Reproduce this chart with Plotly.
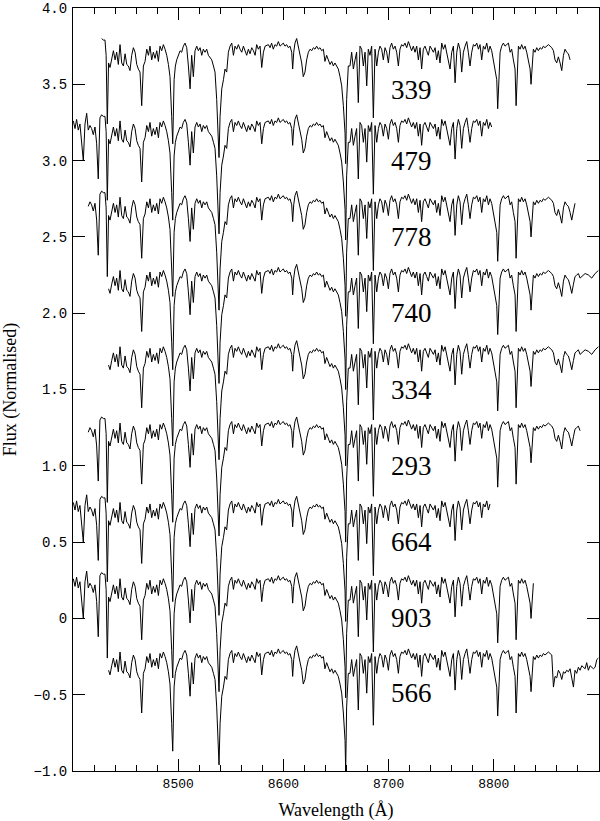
import plotly.graph_objects as go

# espectro plantilla (flujo normalizado), 8400-8855 A
template_wl = [
    8400.3, 8401.9, 8403.4, 8405.0, 8406.6, 8408.2, 8409.8, 8411.4, 8413.0, 8414.5,
    8416.1, 8417.7, 8419.3, 8420.9, 8422.5, 8424.0, 8425.6, 8427.2, 8428.8, 8430.4,
    8431.5, 8432.6, 8433.8, 8435.2, 8436.8, 8438.4, 8440.0, 8441.5, 8443.1, 8444.7,
    8446.3, 8447.9, 8449.5, 8451.1, 8452.6, 8454.2, 8455.8, 8457.4, 8459.0, 8460.6,
    8462.1, 8463.7, 8465.3, 8466.9, 8468.5, 8470.1, 8471.7, 8473.2, 8474.8, 8476.4,
    8478.0, 8479.6, 8481.2, 8482.7, 8484.3, 8485.9, 8487.5, 8489.1, 8490.7, 8492.2,
    8493.8, 8494.8, 8496.1, 8497.3, 8498.6, 8500.2, 8501.8, 8503.3, 8504.9, 8506.5,
    8508.1, 8509.7, 8511.3, 8512.8, 8514.4, 8516.0, 8517.6, 8519.2, 8520.8, 8522.4,
    8523.9, 8525.5, 8527.1, 8528.7, 8530.3, 8531.9, 8533.5, 8535.0, 8536.6, 8538.2,
    8538.8, 8539.8, 8541.4, 8543.0, 8544.5, 8546.1, 8547.7, 8549.3, 8550.9, 8552.5,
    8554.0, 8555.6, 8557.2, 8558.8, 8560.4, 8562.0, 8563.6, 8565.1, 8566.7, 8568.3,
    8569.9, 8571.5, 8573.1, 8574.6, 8576.2, 8577.8, 8579.4, 8581.0, 8582.6, 8585.7,
    8587.3, 8588.8, 8590.4, 8592.0, 8593.6, 8595.2, 8596.8, 8598.3, 8599.9, 8601.5,
    8603.1, 8604.7, 8606.3, 8607.9, 8608.8, 8609.8, 8611.0, 8612.6, 8614.2, 8615.8,
    8617.4, 8618.9, 8620.5, 8622.1, 8623.7, 8625.3, 8626.9, 8628.5, 8630.0, 8631.6,
    8633.2, 8634.8, 8636.4, 8638.0, 8639.5, 8641.1, 8642.7, 8644.3, 8645.9, 8647.5,
    8649.0, 8650.6, 8652.2, 8653.8, 8655.4, 8657.0, 8658.6, 8659.2, 8660.1, 8661.7,
    8663.3, 8664.9, 8666.5, 8668.1, 8669.6, 8671.2, 8672.8, 8674.4, 8676.0, 8677.6,
    8679.2, 8680.7, 8682.3, 8683.9, 8685.5, 8687.1, 8688.7, 8690.3, 8691.8, 8693.4,
    8695.0, 8696.6, 8698.2, 8699.8, 8701.3, 8702.9, 8704.5, 8706.1, 8707.7, 8709.3,
    8710.8, 8712.4, 8714.0, 8715.6, 8717.2, 8718.8, 8720.4, 8721.9, 8723.5, 8725.1,
    8726.7, 8728.3, 8729.9, 8731.4, 8733.0, 8734.6, 8736.2, 8737.8, 8739.4, 8741.0,
    8742.6, 8744.2, 8745.7, 8747.3, 8748.9, 8750.5, 8752.1, 8753.7, 8755.2, 8756.8,
    8758.4, 8760.0, 8761.6, 8763.2, 8764.8, 8766.3, 8767.9, 8769.5, 8771.1, 8772.7,
    8774.3, 8775.8, 8777.4, 8779.0, 8780.6, 8782.2, 8783.8, 8785.4, 8786.9, 8788.5,
    8790.1, 8791.7, 8793.3, 8794.9, 8796.4, 8798.0, 8799.6, 8801.2, 8802.8, 8803.7,
    8805.0, 8806.0, 8807.5, 8809.1, 8810.7, 8812.3, 8813.9, 8815.5, 8817.0, 8818.6,
    8820.2, 8821.2, 8822.4, 8823.4, 8825.0, 8826.5, 8828.1, 8829.7, 8831.3, 8832.9,
    8834.5, 8835.4, 8836.7, 8837.6, 8839.2, 8840.8, 8842.4, 8844.0, 8845.6, 8847.1,
    8848.7, 8850.3, 8851.9, 8853.5, 8855.1,
]
template_flux = [
    1.02, 0.97, 1.03, 0.96, 1.00, 0.87, 0.76, 1.00, 1.07, 0.96,
    0.99, 0.97, 0.93, 0.98, 0.87, 0.64, 1.04, 1.06, 1.05, 1.05,
    0.95, 0.50, 0.90, 0.87, 0.93, 0.98, 0.92, 0.97, 0.89, 1.02,
    0.90, 0.88, 0.96, 0.89, 0.88, 0.85, 0.95, 1.00, 0.97, 0.89,
    0.86, 0.84, 0.62, 0.88, 0.91, 0.99, 0.95, 1.01, 0.92, 0.97,
    0.93, 0.98, 0.91, 1.01, 0.98, 1.02, 0.99, 0.95, 0.89, 0.81,
    0.55, 0.37, 0.79, 0.88, 0.92, 0.95, 0.98, 0.97, 1.01, 1.03,
    1.00, 0.88, 0.73, 0.95, 0.81, 0.98, 1.01, 0.98, 1.00, 0.95,
    0.99, 0.97, 0.99, 0.95, 0.93, 0.92, 0.88, 0.84, 0.66, 0.44,
    0.28, 0.55, 0.73, 0.79, 0.86, 0.84, 0.97, 1.01, 1.03, 0.95,
    1.01, 0.99, 1.02, 0.99, 0.97, 1.01, 0.97, 0.95, 0.99, 0.96,
    1.00, 0.98, 0.95, 1.02, 0.99, 1.01, 0.87, 0.97, 1.01, 1.02,
    1.00, 1.03, 0.99, 1.02, 1.01, 1.04, 1.01, 1.02, 1.03, 1.01,
    1.02, 1.00, 1.01, 0.97, 0.86, 0.97, 1.03, 1.06, 1.01, 0.97,
    0.90, 0.81, 0.84, 0.92, 0.97, 0.99, 0.98, 1.00, 0.99, 1.01,
    0.99, 1.00, 0.98, 0.99, 0.91, 0.95, 0.92, 0.89, 0.91, 0.88,
    0.90, 0.88, 0.86, 0.81, 0.75, 0.62, 0.44, 0.24, 0.66, 0.88,
    0.88, 0.97, 0.86, 0.92, 0.97, 0.64, 1.01, 0.99, 0.88, 0.97,
    0.75, 0.99, 0.95, 1.01, 0.54, 0.99, 0.88, 0.97, 1.01, 0.99,
    0.92, 1.00, 0.97, 0.90, 1.00, 1.03, 0.99, 1.01, 0.97, 0.88,
    0.99, 1.02, 1.01, 1.03, 1.00, 1.04, 1.01, 0.98, 1.01, 0.97,
    1.01, 0.92, 1.00, 0.86, 0.99, 1.01, 0.98, 0.95, 1.01, 0.99,
    0.97, 1.00, 0.92, 0.98, 0.90, 1.03, 0.99, 1.02, 0.97, 0.92,
    0.86, 0.97, 1.01, 0.77, 0.97, 1.03, 0.99, 0.84, 0.97, 1.01,
    1.04, 0.97, 0.88, 0.97, 1.02, 1.01, 1.03, 0.99, 1.02, 0.92,
    1.01, 0.99, 1.03, 0.97, 1.01, 0.98, 0.92, 0.86, 0.79, 0.60,
    0.84, 0.97, 1.01, 1.03, 1.01, 1.02, 1.03, 0.97, 0.99, 0.92,
    0.86, 0.62, 0.92, 1.01, 0.99, 1.02, 0.99, 1.01, 0.97, 0.92,
    0.86, 0.76, 0.92, 0.99, 0.97, 1.00, 0.98, 1.00, 0.99, 1.01,
    1.00, 1.01, 1.02, 1.01, 1.00,
]

# extremo rojo comun (> 8855 A)
tail_wl = [8856.7, 8858.2, 8859.8, 8861.4, 8863.0, 8864.6, 8866.2, 8867.7, 8869.3, 8870.9,
           8872.5, 8874.1, 8875.7, 8877.2, 8878.8, 8880.4, 8882.0, 8883.6, 8886.8, 8890.0,
           8893.1, 8896.3, 8899.4]
tail_flux = [0.98, 0.92, 0.90, 0.94, 0.90, 0.85, 0.95, 0.99, 0.97, 0.96,
             0.92, 0.87, 0.93, 0.98, 0.99, 1.00, 0.97, 0.98, 1.00, 0.99,
             0.97, 1.00, 1.02]

# extremo rojo de la estrella 566 (con el salto)
tail566_wl = [8856.7, 8858.2, 8859.8, 8861.4, 8863.0, 8864.6, 8866.2, 8867.7, 8869.3, 8870.9,
              8872.5, 8874.1, 8875.7, 8877.2, 8878.8, 8880.4, 8882.0, 8883.6, 8885.2, 8886.8,
              8888.3, 8889.9, 8891.5, 8893.1, 8894.7, 8896.3, 8897.9, 8899.4]
tail566_flux = [0.79, 0.86, 0.85, 0.90, 0.88, 0.84, 0.89, 0.88, 0.90, 0.89,
                0.91, 0.86, 0.79, 0.90, 0.88, 0.92, 0.90, 0.93, 0.92, 0.91,
                0.95, 0.90, 0.93, 0.92, 0.91, 0.92, 0.97, 0.98]

stars = ["339", "479", "778", "740", "334", "293", "664", "903", "566"]
offsets = [2.74, 2.24, 1.74, 1.26, 0.76, 0.26, -0.26, -0.76, -1.24]
wl_start = [8427, 8400, 8414, 8433.5, 8433.5, 8414, 8400, 8400, 8433.5]
wl_end = [8874, 8798, 8878, 8900, 8900, 8883, 8797, 8839, 8900]
label_y = [3.46, 3.0, 2.5, 2.0, 1.5, 1.0, 0.5, 0.0, -0.49]
label_wl = 8722

ytick_vals = [-1.0, -0.5, 0.0, 0.5, 1.0, 1.5, 2.0, 2.5, 3.0, 3.5, 4.0]
ytick_text = ["\u22121.0", "\u22120.5", "0", "0.5", "1.0", "1.5", "2.0", "2.5", "3.0", "3.5", "4.0"]
xtick_vals = [8500, 8600, 8700, 8800]

fig = go.Figure()
for star, off, w0, w1 in zip(stars, offsets, wl_start, wl_end):
    if star == "566":
        wl = template_wl + tail566_wl
        fl = template_flux + tail566_flux
    else:
        wl = template_wl + tail_wl
        fl = template_flux + tail_flux
    xs = [w for w in wl if w0 <= w <= w1]
    ys = [f + off for w, f in zip(wl, fl) if w0 <= w <= w1]
    fig.add_trace(go.Scatter(x=xs, y=ys, mode="lines",
                             line=dict(color="black", width=1), showlegend=False))

for star, ly in zip(stars, label_y):
    fig.add_annotation(x=label_wl, y=ly, text=star, showarrow=False,
                       font=dict(family="Liberation Serif", size=27, color="black"))

axis_common = dict(showline=True, linecolor="black", linewidth=1, mirror="allticks",
                   ticks="inside", ticklen=12, tickcolor="black", showgrid=False,
                   zeroline=False, automargin=False)

fig.update_xaxes(range=[8400, 8900], tickmode="array", tickvals=xtick_vals,
                 tickfont=dict(family="Liberation Mono", size=13, color="black"),
                 minor=dict(tickmode="linear", tick0=8400, dtick=20, ticks="inside",
                            ticklen=6, tickcolor="black"),
                 title=dict(text="Wavelength (Å)", standoff=12,
                            font=dict(family="Liberation Serif", size=18, color="black")),
                 **axis_common)
fig.update_yaxes(range=[-1.0, 4.0], tickmode="array", tickvals=ytick_vals, ticktext=ytick_text,
                 tickfont=dict(family="Liberation Mono", size=14, color="black"),
                 ticklabelstandoff=2,
                 title=dict(text="Flux (Normalised)", standoff=12,
                            font=dict(family="Liberation Serif", size=18, color="black")),
                 **axis_common)

fig.update_layout(width=600, height=821, margin=dict(l=73, r=1, t=8, b=50),
                  paper_bgcolor="white", plot_bgcolor="white")

# quitar el margen del body para que la figura ocupe la ventana
fig.write_html("out.html", config={"displayModeBar": False},
               post_script="document.body.style.margin='0';")
